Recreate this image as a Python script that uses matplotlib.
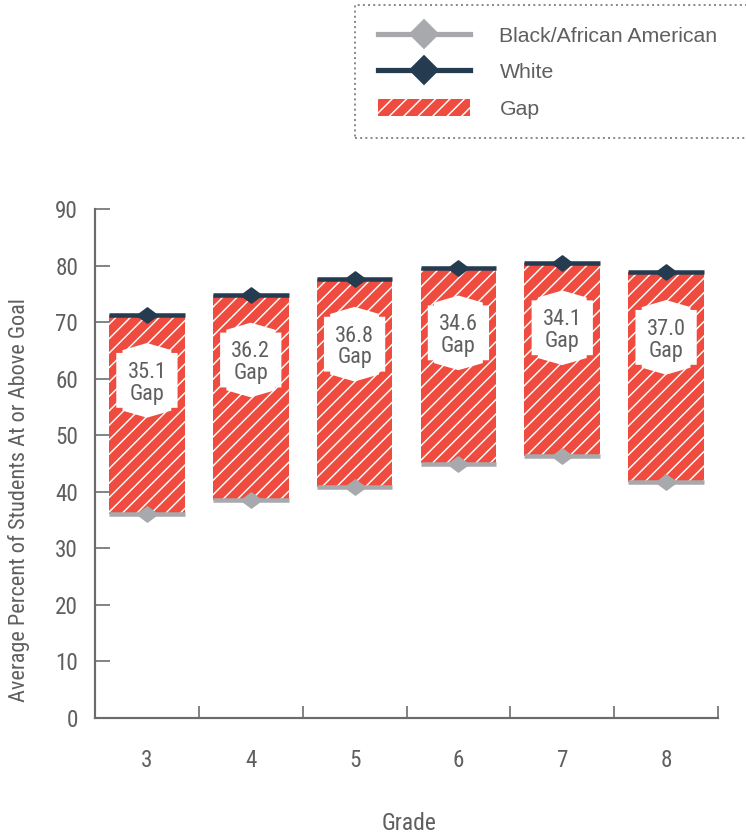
import matplotlib
matplotlib.use("Agg")
import matplotlib.pyplot as plt
import numpy as np
from matplotlib.path import Path
from matplotlib.patches import Polygon, Rectangle, Patch
from matplotlib.lines import Line2D

# ---- data ----
grades = ["3", "4", "5", "6", "7", "8"]
black = [36.1, 38.6, 40.8, 45.0, 46.4, 41.8]
white = [71.2, 74.8, 77.6, 79.6, 80.5, 78.8]
gaps = [35.1, 36.2, 36.8, 34.6, 34.1, 37.0]
yticks = [0, 10, 20, 30, 40, 50, 60, 70, 80, 90]

RED = "#EF4C3F"
NAVY = "#243B50"
GRAY = "#A7A9AC"
TXT = "#5E5F61"
AX = "#6A6B6D"
COND = ["Roboto Condensed", "DejaVu Sans"]
REG = ["Liberation Sans", "DejaVu Sans"]

plt.rcParams["hatch.linewidth"] = 0.8

DPI = 130
fig = plt.figure(figsize=(746 / DPI, 834 / DPI), dpi=DPI)
ax = fig.add_axes([95 / 746, 1 - 718 / 834, 623 / 746, 509 / 834])

x = np.arange(len(grades))
bw = 0.73
lo = np.array(black)
hi = np.array(white)

ax.bar(x, hi - lo, bottom=lo, width=bw, color=RED, edgecolor="white",
       linewidth=0, hatch="///", zorder=2)

diamond = Path([(-1, 0), (0, 0.75), (1, 0), (0, -0.75), (-1, 0)],
               [Path.MOVETO, Path.LINETO, Path.LINETO, Path.LINETO, Path.CLOSEPOLY])

ax.hlines(hi, x - bw / 2, x + bw / 2, color=NAVY, lw=2.5, zorder=3)
ax.hlines(lo, x - bw / 2, x + bw / 2, color=GRAY, lw=2.5, zorder=3)
ax.plot(x, hi, ls="none", marker=diamond, ms=11, color=NAVY, mec=NAVY, zorder=4)
ax.plot(x, lo, ls="none", marker=diamond, ms=11, color=GRAY, mec=GRAY, zorder=4)

# label boxes
hw, hh, pk, st = 0.295, 4.85, 1.75, 0.06
for xi, w, g in zip(x, white, gaps):
    cy = w - 11.5
    pts = [(xi - hw, cy - hh), (xi - hw, cy + hh), (xi - hw + st, cy + hh),
           (xi - hw + st, cy + hh + 0.5), (xi, cy + hh + pk),
           (xi + hw - st, cy + hh + 0.5), (xi + hw - st, cy + hh),
           (xi + hw, cy + hh), (xi + hw, cy - hh), (xi + hw - st, cy - hh),
           (xi + hw - st, cy - hh - 0.5), (xi, cy - hh - pk),
           (xi - hw + st, cy - hh - 0.5), (xi - hw + st, cy - hh)]
    ax.add_patch(Polygon(pts, closed=True, facecolor="white", edgecolor="none", zorder=5))
    ax.text(xi, cy - 0.5, f"{g:.1f}\nGap", ha="center", va="center", fontsize=12.3,
            family=COND, color=TXT, linespacing=1.05, zorder=6)

ax.set_xlim(-0.5, len(grades) - 0.5)
ax.set_ylim(0, 90)
ax.set_yticks(yticks)
ax.set_xticks(x)
ax.set_xticklabels(grades)
ax.set_xticks(np.arange(len(grades) + 1) - 0.5, minor=True)

for s in ["top", "right"]:
    ax.spines[s].set_visible(False)
for s in ["left", "bottom"]:
    ax.spines[s].set_color(AX)
    ax.spines[s].set_linewidth(1.2)

ax.tick_params(axis="y", direction="in", length=8.3, width=0.9, color=AX,
               pad=9.4, labelsize=12.8, labelcolor=TXT)
ax.tick_params(axis="x", which="major", length=0, pad=17, labelsize=12.8, labelcolor=TXT)
ax.tick_params(axis="x", which="minor", direction="in", length=6.6, width=0.9, color=AX)
for lab in ax.get_xticklabels() + ax.get_yticklabels():
    lab.set_family(COND)

fig.text(19 / 746, 1 - 500 / 834, "Average Percent of Students At or Above Goal",
         rotation=90, ha="center", va="center", fontsize=12.3, family=COND, color=TXT)
fig.text(409 / 746, 1 - 824 / 834, "Grade", ha="center", va="center",
         fontsize=13, family=COND, color=TXT)

# legend
handles = [
    Line2D([0], [0], color=GRAY, lw=2.9, marker="D", ms=11, mec=GRAY, mfc=GRAY),
    Line2D([0], [0], color=NAVY, lw=2.9, marker="D", ms=11, mec=NAVY, mfc=NAVY),
    Patch(facecolor=RED, edgecolor="white", linewidth=0, hatch="///"),
]
labels = ["Black/African American", "White", "Gap"]
leg = fig.legend(handles, labels, loc="upper left",
                 bbox_to_anchor=(378 / 746, 1 - 26 / 834), frameon=False,
                 borderaxespad=0, borderpad=0, handlelength=4.3, handletextpad=1.4,
                 handleheight=0.85, labelspacing=0.78, numpoints=1,
                 prop={"family": REG, "size": 11.8})
for t in leg.get_texts():
    t.set_color(TXT)

fig.add_artist(Rectangle((355 / 746, 1 - 138 / 834), 0.6, 133 / 834,
                         transform=fig.transFigure, fill=False, edgecolor="#8A8B8D",
                         lw=1.1, linestyle=(0, (1, 1.6))))

fig.savefig("out.png", dpi=DPI)
